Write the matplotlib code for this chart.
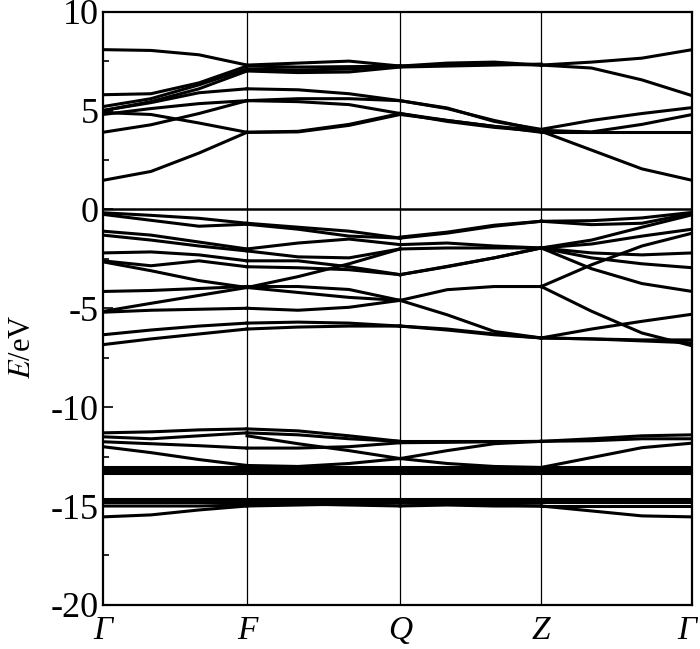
import matplotlib
matplotlib.use('Agg')
import matplotlib.pyplot as plt
import matplotlib.transforms as mtransforms
import numpy as np

plt.rcParams['font.family'] = ['Liberation Serif', 'DejaVu Serif']
plt.rcParams['mathtext.fontset'] = 'stix'
plt.rcParams['axes.unicode_minus'] = False

# high-symmetry points along the k path
k_sym = [0.0, 1.44, 2.97, 4.38, 5.89]
k_labels = ['Γ', 'F', 'Q', 'Z', 'Γ']

# band energies (eV) at 4 evenly spaced points of each path segment
bands_GF = [
    [8.08, 8.04, 7.82, 7.3],
    [5.8, 5.85, 6.4, 7.25],
    [5.2, 5.6, 6.3, 7.1],
    [5.0, 5.45, 6.1, 7.0],
    [5.0, 5.4, 5.9, 6.1],
    [4.8, 5.1, 5.35, 5.5],
    [3.9, 4.28, 4.85, 5.5],
    [4.9, 4.8, 4.37, 3.9],
    [1.47, 1.92, 2.85, 3.9],
    [-0.17, -0.3, -0.45, -0.7],
    [-0.25, -0.55, -0.85, -0.75],
    [-1.1, -1.3, -1.65, -2.0],
    [-1.3, -1.55, -1.85, -2.1],
    [-2.2, -2.15, -2.3, -2.6],
    [-2.6, -2.85, -2.6, -2.9],
    [-2.65, -3.1, -3.6, -3.95],
    [-4.15, -4.1, -4.0, -3.9],
    [-5.16, -4.75, -4.35, -3.95],
    [-5.2, -5.1, -5.05, -5.0],
    [-6.34, -6.1, -5.9, -5.75],
    [-6.84, -6.55, -6.3, -6.05],
    [-11.3, -11.25, -11.15, -11.1],
    [-11.5, -11.6, -11.45, -11.3],
    [-11.75, -11.85, -11.95, -12.07],
    [-12.0, -12.3, -12.65, -12.95],
    [-15.0, -15.0, -15.0, -14.95],
    [-15.55, -15.45, -15.2, -15.0],
]

bands_FQ = [
    [7.3, 7.4, 7.5, 7.25],
    [7.25, 7.2, 7.22, 7.25],
    [7.1, 7.05, 7.1, 7.25],
    [7.0, 6.92, 6.95, 7.2],
    [6.1, 6.05, 5.85, 5.5],
    [5.5, 5.6, 5.6, 5.5],
    [5.5, 5.45, 5.3, 4.85],
    [3.9, 3.95, 4.3, 4.85],
    [3.9, 3.92, 4.25, 4.8],
    [-0.7, -0.9, -1.1, -1.45],
    [-0.75, -1.0, -1.35, -1.45],
    [-2.0, -1.7, -1.5, -1.78],
    [-2.1, -2.4, -2.45, -2.0],
    [-2.6, -2.6, -2.9, -3.3],
    [-2.9, -2.95, -3.05, -3.3],
    [-3.95, -3.4, -2.75, -2.0],
    [-3.9, -3.9, -4.05, -4.6],
    [-3.95, -4.2, -4.45, -4.6],
    [-5.0, -5.1, -4.95, -4.6],
    [-5.75, -5.7, -5.75, -5.9],
    [-6.05, -5.95, -5.9, -5.9],
    [-11.1, -11.2, -11.45, -11.73],
    [-11.3, -11.4, -11.6, -11.73],
    [-12.07, -12.07, -12.0, -11.8],
    [-11.45, -11.85, -12.2, -12.6],
    [-12.95, -13.0, -12.85, -12.6],
    [-14.95, -14.9, -14.95, -15.0],
    [-15.0, -14.95, -14.9, -14.85],
]

bands_QZ = [
    [7.25, 7.4, 7.45, 7.3],
    [7.25, 7.3, 7.35, 7.3],
    [7.2, 7.25, 7.3, 7.35],
    [5.5, 5.13, 4.45, 4.05],
    [5.5, 5.1, 4.5, 4.0],
    [4.85, 4.5, 4.2, 3.9],
    [4.85, 4.45, 4.15, 3.95],
    [4.8, 4.5, 4.2, 4.0],
    [-1.45, -1.2, -0.85, -0.6],
    [-1.4, -1.15, -0.8, -0.6],
    [-1.78, -1.7, -1.85, -1.95],
    [-2.0, -1.95, -1.95, -1.95],
    [-3.3, -2.88, -2.45, -1.95],
    [-3.3, -2.9, -2.45, -1.95],
    [-4.6, -4.06, -3.9, -3.9],
    [-4.6, -5.33, -6.17, -6.5],
    [-5.9, -6.1, -6.34, -6.5],
    [-5.9, -6.05, -6.3, -6.5],
    [-11.73, -11.73, -11.73, -11.73],
    [-11.8, -11.78, -11.75, -11.73],
    [-12.6, -12.2, -11.85, -11.73],
    [-12.6, -12.85, -13.0, -13.05],
    [-14.85, -14.9, -14.95, -15.0],
    [-15.0, -14.95, -15.0, -15.0],
]

bands_ZG = [
    [7.3, 7.45, 7.65, 8.08],
    [7.3, 7.15, 6.55, 5.75],
    [4.05, 4.5, 4.85, 5.15],
    [4.0, 3.92, 4.3, 4.8],
    [3.9, 3.9, 3.9, 3.9],
    [3.95, 3.0, 2.05, 1.47],
    [-0.6, -0.57, -0.43, -0.15],
    [-0.6, -0.77, -0.7, -0.2],
    [-1.95, -1.55, -0.9, -0.27],
    [-1.95, -1.75, -1.35, -1.0],
    [-1.95, -2.2, -2.3, -2.2],
    [-1.95, -2.45, -2.75, -2.95],
    [-1.95, -3.0, -3.75, -4.15],
    [-3.9, -2.8, -1.85, -1.2],
    [-3.9, -5.15, -6.25, -6.9],
    [-6.5, -6.05, -5.66, -5.3],
    [-6.5, -6.55, -6.6, -6.6],
    [-6.5, -6.55, -6.65, -6.75],
    [-11.73, -11.6, -11.45, -11.4],
    [-11.73, -11.7, -11.6, -11.6],
    [-13.05, -12.55, -12.05, -11.82],
    [-15.0, -15.0, -15.0, -15.0],
    [-15.0, -15.25, -15.5, -15.55],
]

# nearly flat semicore bands across the whole path
flat_bands = [-13.05, -13.2, -13.35, -14.65, -14.8]

segments = [bands_GF, bands_FQ, bands_QZ, bands_ZG]

fig = plt.figure(figsize=(7, 6.49), dpi=100)
ax = fig.add_axes([0.147, 0.068, 0.842, 0.914])

for i, seg in enumerate(segments):
    k = np.linspace(k_sym[i], k_sym[i + 1], 4)
    for e in seg:
        ax.plot(k, e, color='black', lw=2.2)

for e in flat_bands:
    ax.plot([k_sym[0], k_sym[-1]], [e, e], color='black', lw=2.2)

for k in k_sym[1:-1]:
    ax.axvline(k, color='black', lw=0.9)
ax.axhline(0, color='black', lw=1.8)

ax.set_xlim(k_sym[0], k_sym[-1])
ax.set_ylim(-20, 10)
ax.set_yticks(np.arange(-20, 11, 5))
ax.set_yticks(np.arange(-20, 10, 2.5), minor=True)
ax.tick_params(axis='y', which='both', direction='in', labelsize=26, pad=3)
ax.tick_params(axis='y', which='major', length=7, width=1.2)
ax.tick_params(axis='y', which='minor', length=4, width=1.2)

ax.set_xticks(k_sym)
ax.set_xticklabels(k_labels, fontstyle='italic', fontsize=24)
ax.tick_params(axis='x', length=0, pad=8)
# keep the last Gamma inside the figure edge
last = ax.get_xticklabels()[-1]
last.set_transform(last.get_transform() +
                   mtransforms.ScaledTranslation(-4 / 72, 0, fig.dpi_scale_trans))

for sp in ax.spines.values():
    sp.set_linewidth(1.6)

ax.set_ylabel('$E$/eV', fontsize=22)
ax.yaxis.set_label_coords(-0.112, 0.435)

fig.savefig('out.png', dpi=100)
